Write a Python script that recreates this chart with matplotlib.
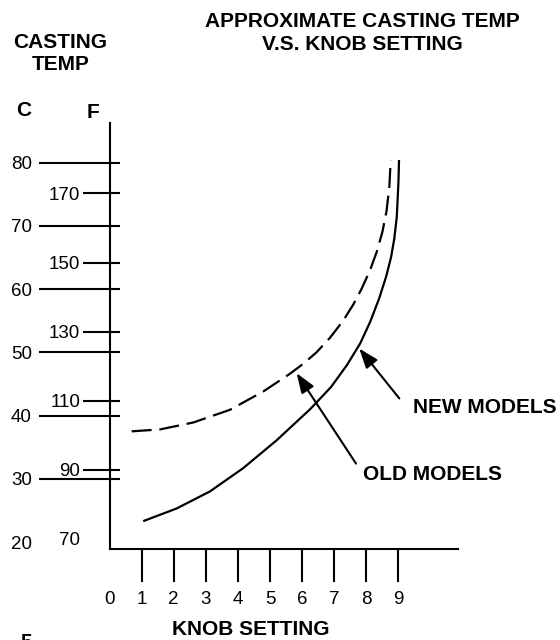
import matplotlib
matplotlib.use("Agg")
import matplotlib.pyplot as plt

plt.rcParams['font.family'] = ['Liberation Sans', 'DejaVu Sans']

# knob settings on the x axis
knob_ticks = [0, 1, 2, 3, 4, 5, 6, 7, 8, 9]

# temperature scales
c_ticks = [30, 40, 50, 60, 70, 80]
c_labels = [20, 30, 40, 50, 60, 70, 80]
f_ticks = [90, 110, 130, 150, 170]
f_labels = [70, 90, 110, 130, 150, 170]

# new models (solid), degrees C
new_knob = [1.05, 2.09, 3.13, 4.17, 5.21, 6.25, 6.90, 7.40, 7.81, 8.12,
            8.40, 8.62, 8.77, 8.87, 8.95, 9.00, 9.02]
new_temp = [23.3, 25.3, 28.0, 31.7, 36.1, 41.0, 44.5, 48.0, 51.4, 54.8,
            58.5, 62.0, 65.0, 67.9, 71.4, 76.7, 80.4]

# old models (dashed)
old_knob = [0.69, 1.57, 2.61, 3.75, 4.79, 5.62, 6.04, 6.45, 6.87, 7.28,
            7.60, 7.85, 8.11, 8.32, 8.50, 8.63, 8.72, 8.76]
old_temp = [37.5, 37.8, 38.9, 40.9, 43.8, 46.6, 48.2, 50.0, 52.3, 55.0,
            57.6, 60.0, 62.9, 65.8, 69.0, 72.3, 76.3, 80.4]

# callouts: (label, arrow head, arrow tail, label anchor)
callouts = [
    ("NEW MODELS", (7.78, 50.6), (9.03, 42.7), (9.46, 41.2)),
    ("OLD MODELS", (5.83, 46.7), (7.68, 32.4), (7.91, 30.6)),
]

bold = dict(fontsize=15, fontweight='bold', color='black')

fig = plt.figure(figsize=(5.6, 6.4), dpi=100)
ax = fig.add_axes([109.5 / 560, 91 / 640, 348.5 / 560, 426 / 640])
ax.set_xlim(0, 10.857)
ax.set_ylim(18.895, 86.257)

for s in ['top', 'right']:
    ax.spines[s].set_visible(False)
for s in ['left', 'bottom']:
    ax.spines[s].set_linewidth(1.5)

ax.plot(new_knob, new_temp, color='black', lw=1.6, solid_capstyle='butt',
        solid_joinstyle='round')
ax.plot(old_knob, old_temp, color='black', lw=1.6, linestyle=(0, (9, 3.5)))

# x ticks hang below the axis
ax.set_xticks(knob_ticks)
ax.set_xticklabels([str(k) for k in knob_ticks])
ax.tick_params(axis='x', direction='out', length=23.5, width=1.5, pad=7,
               labelsize=13.5)
ax.xaxis.get_major_ticks()[0].tick1line.set_visible(False)

# celsius scale
ax.set_yticks(c_labels)
ax.set_yticklabels([str(c) for c in c_labels])
ax.tick_params(axis='y', length=0, pad=56, labelsize=13.5)
ax.hlines(c_ticks, -0.2023, 0.0301, transform=ax.get_yaxis_transform(),
          color='black', lw=1.5, clip_on=False)

# fahrenheit scale
axf = ax.twinx()
axf.set_ylim(67.08, 190.40)
for s in axf.spines.values():
    s.set_visible(False)
axf.yaxis.tick_left()
axf.set_yticks(f_labels)
axf.set_yticklabels([str(f) for f in f_labels])
axf.tick_params(axis='y', length=0, pad=21, labelsize=13.5)
axf.hlines(f_ticks, -0.0760, 0.0301, transform=axf.get_yaxis_transform(),
           color='black', lw=1.5, clip_on=False)

for label, head, tail, pos in callouts:
    ax.annotate('', xy=head, xytext=tail,
                arrowprops=dict(arrowstyle='-|>,head_length=0.6,head_width=0.22',
                                mutation_scale=20, color='black', lw=1.5,
                                shrinkA=0, shrinkB=0))
    ax.text(pos[0], pos[1], label, ha='left', va='center', **bold)

# titles and headings
fig.text(362 / 560, 1 - 21.7 / 640, "APPROXIMATE CASTING TEMP", ha='center', va='center', **bold)
fig.text(362 / 560, 1 - 44.5 / 640, "V.S. KNOB SETTING", ha='center', va='center', **bold)
fig.text(60.5 / 560, 1 - 42.5 / 640, "CASTING", ha='center', va='center', **bold)
fig.text(61 / 560, 1 - 65 / 640, "TEMP", ha='center', va='center', **bold)
fig.text(24 / 560, 1 - 111 / 640, "C", ha='center', va='center', **bold)
fig.text(93 / 560, 1 - 112.5 / 640, "F", ha='center', va='center', **bold)
fig.text(251 / 560, 1 - 629.5 / 640, "KNOB SETTING", ha='center', va='center', **bold)
fig.text(20 / 560, 1 - 633 / 640, "5", ha='left', va='top', **bold)

fig.savefig("out.png", dpi=100)
